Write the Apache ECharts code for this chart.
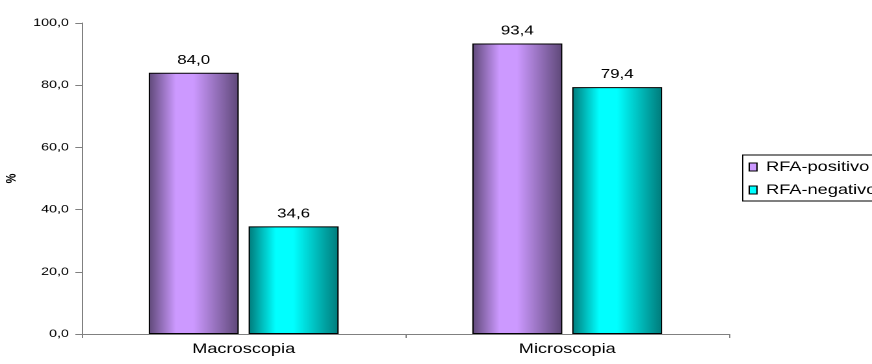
<!DOCTYPE html>
<html>
<head>
<meta charset="utf-8">
<script src="https://cdn.jsdelivr.net/npm/echarts@6/dist/echarts.min.js"></script>
<style>
  html, body { margin: 0; padding: 0; background: #fff; overflow: hidden; }
  #wrap { width: 872px; height: 364px; overflow: hidden; }
  /* the chart is laid out on a narrower canvas and widened, giving the wide lettering */
  #chart { width: 671px; height: 364px; transform: scaleX(1.29955); transform-origin: 0 0; }
</style>
</head>
<body>
<div id="wrap"><div id="chart"></div></div>
<script>
// Categories and series values
const categories = ['Macroscopia', 'Microscopia'];
const seriesNames = ['RFA-positivo', 'RFA-negativo'];
const positivo = [84.0, 93.4];
const negativo = [34.6, 79.4];
const yTicks = { min: 0, max: 100, interval: 20 };

// Horizontal shading that gives each bar a cylindrical look
function shade(edgeL, mid, edgeR) {
  return new echarts.graphic.LinearGradient(0, 0, 1, 0, [
    { offset: 0, color: edgeL },
    { offset: 0.3, color: mid },
    { offset: 0.5, color: mid },
    { offset: 1, color: edgeR }
  ]);
}

const fmt = v => v.toFixed(1).replace('.', ',');

const chart = echarts.init(document.getElementById('chart'), null, { renderer: 'canvas', devicePixelRatio: 2 });

const font = 'Liberation Sans, Arial, sans-serif';

chart.setOption({
  animation: false,
  backgroundColor: '#ffffff',
  grid: { left: 63, right: 110, top: 23, bottom: 30, containLabel: false, outerBoundsMode: 'none' },
  legend: {
    orient: 'vertical',
    left: 571.5,
    top: 155,
    itemWidth: 6,
    itemHeight: 8,
    itemGap: 7,
    padding: [4, 30, 3, 4.5],
    borderColor: '#000',
    borderWidth: 1,
    icon: 'rect',
    textStyle: { fontFamily: font, fontSize: 14, lineHeight: 16, color: '#000', padding: [0, 0, 0, 2] },
    data: [
      { name: seriesNames[0], itemStyle: { color: '#cc99ff', borderColor: '#000', borderWidth: 1 } },
      { name: seriesNames[1], itemStyle: { color: '#00ffff', borderColor: '#000', borderWidth: 1 } }
    ]
  },
  xAxis: {
    type: 'category',
    data: categories,
    axisLine: { lineStyle: { color: '#808080', width: 1 } },
    axisTick: { show: true, alignWithLabel: false, length: 4, lineStyle: { color: '#808080' } },
    axisLabel: { fontFamily: font, fontSize: 14, color: '#000', margin: 8 }
  },
  yAxis: {
    type: 'value',
    min: yTicks.min,
    max: yTicks.max,
    interval: yTicks.interval,
    name: '%',
    nameLocation: 'middle',
    nameRotate: 90,
    nameGap: 45,
    nameTextStyle: { fontFamily: font, fontSize: 11, color: '#000', fontWeight: 'bold' },
    axisLine: { show: true, lineStyle: { color: '#808080', width: 1 } },
    axisTick: { show: true, length: 5, lineStyle: { color: '#808080' } },
    splitLine: { show: false },
    axisLabel: { fontFamily: font, fontSize: 11, color: '#000', margin: 10, formatter: fmt }
  },
  series: [
    {
      name: seriesNames[0],
      type: 'bar',
      data: positivo,
      barWidth: 69.25,
      barGap: '11%',
      itemStyle: {
        color: shade('#5e4878', '#cc99ff', '#5e4878'),
        borderColor: '#000',
        borderWidth: 1
      },
      label: {
        show: true, position: 'top', distance: 6,
        fontFamily: font, fontSize: 13, color: '#000',
        formatter: p => fmt(p.value)
      }
    },
    {
      name: seriesNames[1],
      type: 'bar',
      data: negativo,
      barWidth: 69.25,
      itemStyle: {
        color: shade('#007a7a', '#00ffff', '#007a7a'),
        borderColor: '#000',
        borderWidth: 1
      },
      label: {
        show: true, position: 'top', distance: 6,
        fontFamily: font, fontSize: 13, color: '#000',
        formatter: p => fmt(p.value)
      }
    }
  ]
});
</script>
</body>
</html>
